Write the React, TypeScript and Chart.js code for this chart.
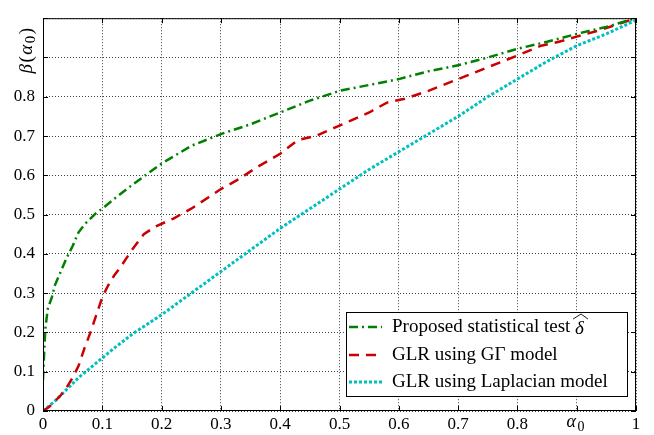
import React, { useEffect, useRef } from "react";
import { Chart, registerables } from "chart.js";

Chart.register(...registerables);

// ---- data ----
const proposedAlpha = [0, 0.002, 0.004, 0.008, 0.015, 0.02, 0.03, 0.04, 0.05, 0.06, 0.07, 0.08, 0.09, 0.1, 0.12, 0.15, 0.2, 0.25, 0.3, 0.35, 0.4, 0.45, 0.5, 0.55, 0.6, 0.65, 0.7, 0.75, 0.8, 0.85, 0.9, 0.95, 1];
const proposedBeta = [0.08, 0.15, 0.21, 0.26, 0.29, 0.32, 0.355, 0.39, 0.42, 0.455, 0.475, 0.49, 0.505, 0.515, 0.54, 0.575, 0.63, 0.675, 0.705, 0.73, 0.76, 0.79, 0.815, 0.83, 0.845, 0.865, 0.88, 0.9, 0.922, 0.94, 0.96, 0.978, 1];

const ggAlpha = [0, 0.01, 0.02, 0.03, 0.04, 0.05, 0.06, 0.07, 0.08, 0.09, 0.1, 0.11, 0.12, 0.13, 0.15, 0.17, 0.19, 0.22, 0.25, 0.28, 0.3, 0.33, 0.36, 0.4, 0.43, 0.46, 0.49, 0.52, 0.55, 0.58, 0.61, 0.65, 0.7, 0.75, 0.8, 0.84, 0.87, 0.9, 0.94, 0.97, 1];
const ggBeta = [0, 0.01, 0.025, 0.04, 0.06, 0.085, 0.115, 0.16, 0.2, 0.245, 0.29, 0.32, 0.345, 0.365, 0.41, 0.45, 0.47, 0.49, 0.515, 0.545, 0.565, 0.59, 0.62, 0.655, 0.69, 0.7, 0.72, 0.74, 0.76, 0.785, 0.795, 0.815, 0.845, 0.875, 0.905, 0.93, 0.94, 0.953, 0.97, 0.985, 1];

const lapAlpha = [0, 0.02, 0.04, 0.06, 0.08, 0.1, 0.12, 0.15, 0.2, 0.25, 0.3, 0.35, 0.4, 0.45, 0.5, 0.55, 0.6, 0.65, 0.7, 0.75, 0.8, 0.85, 0.9, 0.95, 1];
const lapBeta = [0, 0.025, 0.055, 0.085, 0.11, 0.135, 0.16, 0.195, 0.245, 0.3, 0.355, 0.41, 0.465, 0.515, 0.565, 0.615, 0.66, 0.705, 0.75, 0.8, 0.845, 0.89, 0.93, 0.96, 0.995];

const tickValues = [0, 0.1, 0.2, 0.3, 0.4, 0.5, 0.6, 0.7, 0.8, 0.9, 1];
const xTickLabels = ["0", "0.1", "0.2", "0.3", "0.4", "0.5", "0.6", "0.7", "0.8", "", "1"];
const yTickLabels = ["0", "0.1", "0.2", "0.3", "0.4", "0.5", "0.6", "0.7", "0.8", "", ""];
const seriesLabels = ["Proposed statistical test", "GLR using G\u0393 model", "GLR using Laplacian model"];
const seriesColors = ["#008000", "#cc0000", "#00bfbf"];

const SERIF = "'Liberation Serif', 'Times New Roman', serif";

const zip = (xs: number[], ys: number[]) => xs.map((x, i) => ({ x, y: ys[i] }));

const framePlugin = {
  id: "frameAndLabels",
  afterDraw(chart: any) {
    const { ctx, chartArea } = chart;
    const { left, right, top, bottom } = chartArea;
    const xs = chart.scales.x;
    const ys = chart.scales.y;
    ctx.save();
    // frame
    ctx.strokeStyle = "#000";
    ctx.lineWidth = 1;
    ctx.setLineDash([]);
    ctx.strokeRect(left + 0.5, top + 0.5, right - left - 1, bottom - top - 1);
    // inward ticks
    const tl = 5;
    ctx.beginPath();
    tickValues.forEach((v) => {
      const px = Math.round(xs.getPixelForValue(v)) + 0.5;
      ctx.moveTo(px, bottom);
      ctx.lineTo(px, bottom - tl);
      ctx.moveTo(px, top);
      ctx.lineTo(px, top + tl);
      const py = Math.round(ys.getPixelForValue(v)) + 0.5;
      ctx.moveTo(left, py);
      ctx.lineTo(left + tl, py);
      ctx.moveTo(right, py);
      ctx.lineTo(right - tl, py);
    });
    ctx.stroke();

    // y axis title: beta(alpha_0), rotated
    ctx.save();
    ctx.translate(27, 50);
    ctx.rotate(-Math.PI / 2);
    ctx.fillStyle = "#000";
    ctx.textBaseline = "middle";
    const big = 19;
    const gap = 1.5;
    const parts: [string, string, number][] = [
      ["\u03B2", `italic ${big}px ${SERIF}`, 0],
      ["(", `${big}px ${SERIF}`, 0],
      ["\u03B1", `italic ${big}px ${SERIF}`, 0],
      ["0", `15px ${SERIF}`, 4],
      [")", `${big}px ${SERIF}`, 0],
    ];
    let total = 0;
    parts.forEach(([t, f]) => {
      ctx.font = f;
      total += ctx.measureText(t).width + gap;
    });
    let cx = -total / 2;
    parts.forEach(([t, f, dy]) => {
      ctx.font = f;
      ctx.fillText(t, cx, dy);
      cx += ctx.measureText(t).width + gap;
    });
    ctx.restore();

    // x axis title: alpha_0
    ctx.fillStyle = "#000";
    ctx.textBaseline = "alphabetic";
    ctx.font = `italic 18px ${SERIF}`;
    const aw = ctx.measureText("\u03B1").width;
    ctx.fillText("\u03B1", 576 - aw, 427);
    ctx.font = `14px ${SERIF}`;
    ctx.fillText("0", 577.5, 431);

    // legend
    const lx = 346, ly = 312, lw = 281, lh = 84;
    ctx.fillStyle = "#fff";
    ctx.fillRect(lx, ly, lw, lh);
    ctx.strokeStyle = "#000";
    ctx.lineWidth = 1;
    ctx.strokeRect(lx + 0.5, ly + 0.5, lw, lh);
    const rows = [327, 355, 382];
    chart.data.datasets.forEach((ds: any, i: number) => {
      const y = rows[i];
      ctx.save();
      ctx.strokeStyle = ds.borderColor;
      ctx.lineWidth = ds.borderWidth;
      ctx.setLineDash(ds.borderDash || []);
      ctx.beginPath();
      ctx.moveTo(349, y);
      ctx.lineTo(382, y);
      ctx.stroke();
      ctx.restore();
      ctx.fillStyle = "#000";
      ctx.font = `19px ${SERIF}`;
      ctx.textBaseline = "middle";
      ctx.fillText(ds.label, 392, y);
      if (i === 0) {
        const w = ctx.measureText(ds.label + " ").width;
        ctx.font = `italic 19px ${SERIF}`;
        const dx = 392 + w;
        ctx.fillText("\u03B4", dx, y + 2);
        const dw = ctx.measureText("\u03B4").width;
        // wide hat
        ctx.strokeStyle = "#000";
        ctx.lineWidth = 0.9;
        ctx.beginPath();
        ctx.moveTo(dx - 2, y - 8);
        ctx.lineTo(dx + dw / 2 + 1.5, y - 13);
        ctx.lineTo(dx + dw + 4, y - 8);
        ctx.stroke();
      }
    });
    ctx.restore();
  },
};

export default function App() {
  const ref = useRef<HTMLCanvasElement | null>(null);
  useEffect(() => {
    document.body.style.margin = "0";
    const canvas = ref.current;
    if (!canvas) return;
    const chart = new Chart(canvas, {
      type: "line",
      data: {
        datasets: [
          {
            label: seriesLabels[0],
            data: zip(proposedAlpha, proposedBeta),
            borderColor: seriesColors[0],
            borderWidth: 2.5,
            borderDash: [9, 4, 2, 4],
            pointRadius: 0,
            tension: 0,
            fill: false,
          },
          {
            label: seriesLabels[1],
            data: zip(ggAlpha, ggBeta),
            borderColor: seriesColors[1],
            borderWidth: 2.5,
            borderDash: [10, 7],
            pointRadius: 0,
            tension: 0,
            fill: false,
          },
          {
            label: seriesLabels[2],
            data: zip(lapAlpha, lapBeta),
            borderColor: seriesColors[2],
            borderWidth: 3,
            borderDash: [3, 2],
            pointRadius: 0,
            tension: 0,
            fill: false,
          },
        ],
      },
      options: {
        animation: false,
        responsive: false,
        devicePixelRatio: 1,
        layout: { padding: { left: 0, right: 18, top: 6, bottom: 0 } },
        plugins: { legend: { display: false }, tooltip: { enabled: false } },
        scales: {
          x: {
            type: "linear",
            min: 0,
            max: 1,
            afterBuildTicks: (s: any) => {
              s.ticks = tickValues.map((v) => ({ value: v }));
            },
            afterFit: (s: any) => {
              s.height = 24;
            },
            ticks: {
              autoSkip: false,
              maxRotation: 0,
              padding: 3,
              color: "#000",
              font: { family: SERIF, size: 17 },
              callback: (_v: any, i: number) => xTickLabels[i],
            },
            grid: { color: "rgba(0,0,0,0.75)", lineWidth: 1, drawTicks: false },
            border: { display: false, dash: [1, 2] },
          },
          y: {
            type: "linear",
            min: 0,
            max: 1,
            afterBuildTicks: (s: any) => {
              s.ticks = tickValues.map((v) => ({ value: v }));
            },
            afterFit: (s: any) => {
              s.width = 43;
            },
            ticks: {
              autoSkip: false,
              padding: 8,
              color: "#000",
              font: { family: SERIF, size: 17 },
              callback: (_v: any, i: number) => yTickLabels[i],
            },
            grid: { color: "rgba(0,0,0,0.75)", lineWidth: 1, drawTicks: false },
            border: { display: false, dash: [1, 2] },
          },
        },
      },
      plugins: [framePlugin],
    } as any);
    return () => chart.destroy();
  }, []);
  return (
    <div style={{ width: 654, height: 435, background: "#fff" }}>
      <canvas ref={ref} width={654} height={435} style={{ display: "block" }} />
    </div>
  );
}
